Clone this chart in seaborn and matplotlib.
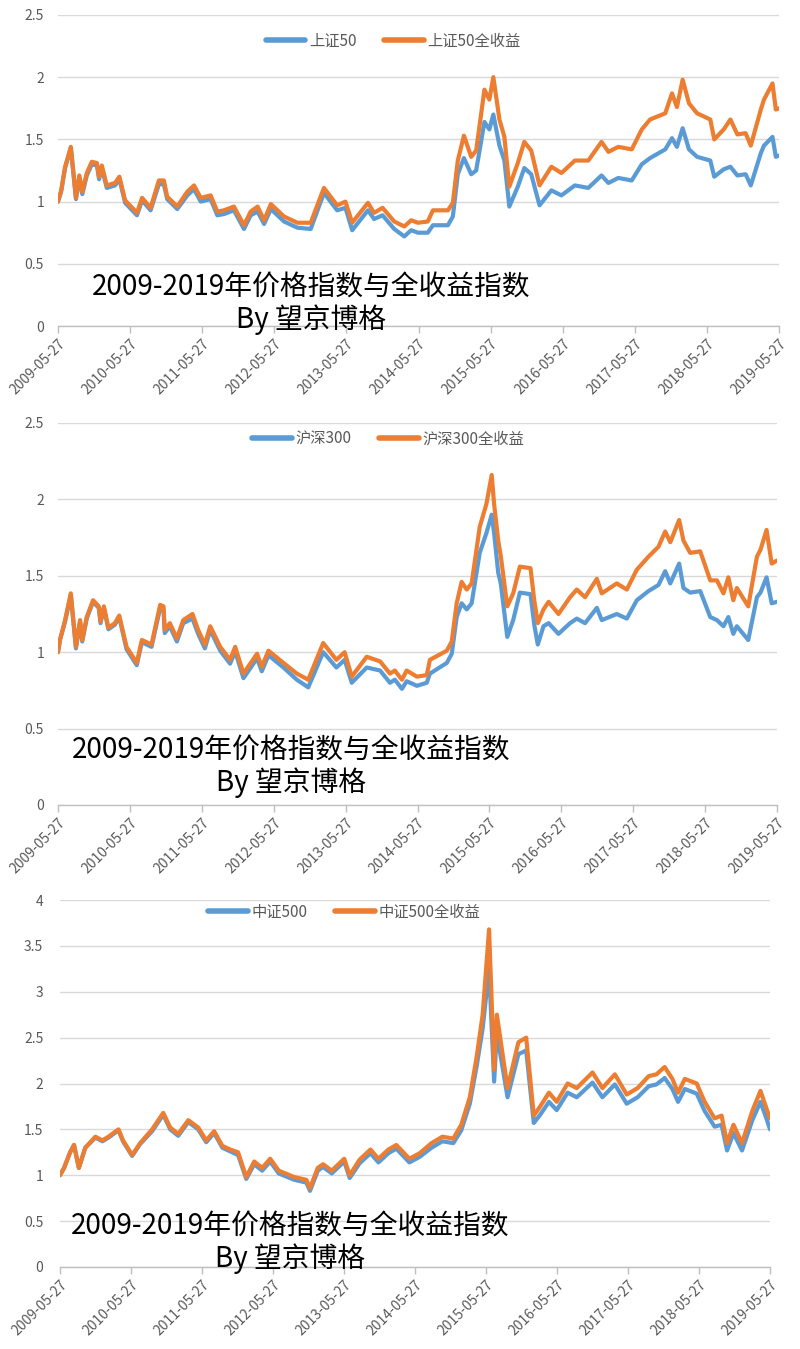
import pandas as pd
import matplotlib.pyplot as plt
import seaborn as sns

# ── colours (Excel default palette) ───────────────────────────────────────────
BLUE = "#5B9BD5"
ORANGE = "#ED7D31"

# ── data: normalised index values (start = 1) ────────────────────────────────
year_ticks = ["2009-05-27", "2010-05-27", "2011-05-27", "2012-05-27", "2013-05-27",
              "2014-05-27", "2015-05-27", "2016-05-27", "2017-05-27", "2018-05-27",
              "2019-05-27"]

sz50_names = ["上证50", "上证50全收益"]
sz50_dates = [
    "2009-05-27", "2009-06-12", "2009-07-02", "2009-07-31", "2009-08-26", "2009-09-12", "2009-09-27", "2009-10-20", "2009-11-14", "2009-12-10",
    "2009-12-21", "2010-01-04", "2010-01-29", "2010-03-12", "2010-04-03", "2010-05-02", "2010-07-01", "2010-07-27", "2010-09-08", "2010-10-20",
    "2010-11-14", "2010-12-01", "2011-01-21", "2011-03-13", "2011-04-16", "2011-05-20", "2011-07-09", "2011-08-12", "2011-09-15", "2011-11-04",
    "2011-12-25", "2012-01-28", "2012-03-03", "2012-04-05", "2012-05-09", "2012-07-15", "2012-09-21", "2012-11-27", "2013-02-02", "2013-04-10",
    "2013-05-22", "2013-06-25", "2013-09-13", "2013-10-14", "2013-11-26", "2014-01-24", "2014-03-16", "2014-04-20", "2014-05-24", "2014-07-13",
    "2014-08-08", "2014-10-23", "2014-11-17", "2014-12-12", "2015-01-12", "2015-02-18", "2015-03-15", "2015-04-26", "2015-05-21", "2015-06-10",
    "2015-07-11", "2015-08-05", "2015-08-30", "2015-10-12", "2015-11-14", "2015-12-19", "2016-01-30", "2016-03-30", "2016-05-20", "2016-07-27",
    "2016-10-03", "2016-12-09", "2017-01-13", "2017-03-04", "2017-05-11", "2017-07-01", "2017-08-12", "2017-10-28", "2017-12-01", "2017-12-26",
    "2018-01-24", "2018-02-25", "2018-04-07", "2018-06-13", "2018-07-03", "2018-08-20", "2018-09-23", "2018-10-28", "2018-12-09", "2019-01-04",
    "2019-02-24", "2019-03-12", "2019-04-24", "2019-05-11", "2019-05-27"]
sz50_price = [
    1.00, 1.08, 1.27, 1.43, 1.02, 1.19, 1.06, 1.21, 1.30, 1.29,
    1.18, 1.27, 1.11, 1.13, 1.18, 0.99, 0.89, 1.01, 0.93, 1.14,
    1.14, 1.02, 0.94, 1.05, 1.10, 1.00, 1.02, 0.89, 0.90, 0.93,
    0.78, 0.89, 0.92, 0.82, 0.94, 0.84, 0.79, 0.78, 1.07, 0.93,
    0.95, 0.77, 0.93, 0.86, 0.89, 0.78, 0.72, 0.77, 0.75, 0.75,
    0.81, 0.81, 0.88, 1.22, 1.35, 1.22, 1.25, 1.64, 1.58, 1.70,
    1.45, 1.33, 0.96, 1.12, 1.27, 1.22, 0.97, 1.09, 1.05, 1.13,
    1.11, 1.21, 1.15, 1.19, 1.17, 1.30, 1.35, 1.42, 1.51, 1.44,
    1.59, 1.42, 1.36, 1.33, 1.20, 1.26, 1.28, 1.21, 1.22, 1.13,
    1.39, 1.45, 1.52, 1.36, 1.37]
sz50_total = [
    1.00, 1.09, 1.28, 1.44, 1.03, 1.21, 1.08, 1.23, 1.32, 1.31,
    1.20, 1.29, 1.13, 1.15, 1.20, 1.01, 0.91, 1.03, 0.95, 1.17,
    1.17, 1.04, 0.96, 1.08, 1.13, 1.03, 1.05, 0.92, 0.93, 0.96,
    0.81, 0.92, 0.96, 0.85, 0.98, 0.88, 0.83, 0.83, 1.11, 0.97,
    1.00, 0.83, 0.99, 0.91, 0.95, 0.84, 0.80, 0.85, 0.83, 0.84,
    0.93, 0.93, 0.99, 1.33, 1.53, 1.36, 1.41, 1.90, 1.82, 2.00,
    1.66, 1.52, 1.12, 1.31, 1.48, 1.41, 1.13, 1.28, 1.23, 1.33,
    1.33, 1.48, 1.40, 1.44, 1.42, 1.58, 1.66, 1.71, 1.87, 1.76,
    1.98, 1.79, 1.71, 1.66, 1.50, 1.58, 1.66, 1.54, 1.55, 1.45,
    1.74, 1.82, 1.95, 1.74, 1.75]

hs300_names = ["沪深300", "沪深300全收益"]
hs300_dates = [
    "2009-05-27", "2009-06-06", "2009-07-02", "2009-07-31", "2009-08-26", "2009-09-16", "2009-09-27", "2009-10-20", "2009-11-21", "2009-12-20",
    "2009-12-29", "2010-01-15", "2010-02-07", "2010-03-12", "2010-04-03", "2010-05-10", "2010-07-01", "2010-07-27", "2010-09-14", "2010-10-28",
    "2010-11-14", "2010-11-20", "2010-12-16", "2011-01-21", "2011-02-22", "2011-04-10", "2011-05-09", "2011-06-12", "2011-07-09", "2011-08-29",
    "2011-10-18", "2011-11-13", "2011-12-25", "2012-03-03", "2012-03-27", "2012-04-30", "2012-07-15", "2012-09-21", "2012-11-18", "2013-02-02",
    "2013-04-10", "2013-05-22", "2013-06-27", "2013-09-11", "2013-11-18", "2014-01-07", "2014-02-01", "2014-03-09", "2014-04-02", "2014-05-24",
    "2014-07-13", "2014-07-29", "2014-10-23", "2014-11-17", "2014-12-12", "2015-01-06", "2015-02-01", "2015-02-26", "2015-04-08", "2015-05-12",
    "2015-06-08", "2015-06-20", "2015-07-11", "2015-07-24", "2015-08-26", "2015-09-25", "2015-10-29", "2015-12-22", "2016-01-10", "2016-01-28",
    "2016-02-26", "2016-03-23", "2016-05-12", "2016-07-10", "2016-08-13", "2016-09-24", "2016-11-23", "2016-12-18", "2017-03-04", "2017-04-24",
    "2017-06-14", "2017-08-12", "2017-10-02", "2017-11-05", "2017-12-01", "2018-01-15", "2018-02-06", "2018-03-12", "2018-05-02", "2018-06-22",
    "2018-07-26", "2018-08-28", "2018-09-22", "2018-10-17", "2018-11-04", "2019-01-01", "2019-02-14", "2019-03-04", "2019-04-04", "2019-04-30",
    "2019-05-27"]
hs300_price = [
    1.00, 1.08, 1.20, 1.375, 1.025, 1.20, 1.07, 1.22, 1.33, 1.29,
    1.19, 1.29, 1.15, 1.18, 1.23, 1.02, 0.915, 1.065, 1.035, 1.29,
    1.28, 1.125, 1.17, 1.07, 1.19, 1.22, 1.12, 1.025, 1.145, 1.01,
    0.925, 1.005, 0.83, 0.96, 0.875, 0.98, 0.90, 0.82, 0.77, 1.00,
    0.90, 0.95, 0.80, 0.90, 0.88, 0.80, 0.82, 0.76, 0.81, 0.78,
    0.80, 0.86, 0.93, 0.99, 1.23, 1.32, 1.28, 1.32, 1.65, 1.78,
    1.90, 1.78, 1.52, 1.45, 1.10, 1.21, 1.39, 1.38, 1.18, 1.05,
    1.17, 1.19, 1.12, 1.19, 1.22, 1.19, 1.29, 1.21, 1.25, 1.22,
    1.34, 1.40, 1.44, 1.53, 1.45, 1.58, 1.42, 1.39, 1.40, 1.23,
    1.21, 1.17, 1.23, 1.12, 1.17, 1.08, 1.36, 1.39, 1.49, 1.32,
    1.33]
hs300_total = [
    1.00, 1.08, 1.21, 1.385, 1.035, 1.21, 1.08, 1.23, 1.34, 1.30,
    1.20, 1.30, 1.16, 1.19, 1.24, 1.035, 0.93, 1.08, 1.05, 1.31,
    1.30, 1.145, 1.19, 1.09, 1.21, 1.25, 1.145, 1.05, 1.17, 1.035,
    0.95, 1.035, 0.86, 0.99, 0.905, 1.01, 0.93, 0.86, 0.82, 1.06,
    0.95, 1.00, 0.84, 0.97, 0.94, 0.86, 0.88, 0.82, 0.88, 0.84,
    0.85, 0.95, 1.01, 1.07, 1.32, 1.46, 1.41, 1.45, 1.82, 1.97,
    2.16, 1.97, 1.73, 1.63, 1.30, 1.385, 1.56, 1.55, 1.34, 1.19,
    1.28, 1.33, 1.25, 1.36, 1.41, 1.36, 1.48, 1.385, 1.45, 1.41,
    1.54, 1.625, 1.69, 1.79, 1.72, 1.865, 1.73, 1.65, 1.66, 1.47,
    1.47, 1.385, 1.49, 1.34, 1.42, 1.30, 1.625, 1.67, 1.80, 1.58,
    1.60]

zz500_names = ["中证500", "中证500全收益"]
zz500_dates = [
    "2009-05-27", "2009-06-17", "2009-07-18", "2009-08-07", "2009-09-01", "2009-10-04", "2009-11-25", "2009-12-31", "2010-01-31", "2010-03-24",
    "2010-04-16", "2010-06-02", "2010-07-13", "2010-09-13", "2010-11-09", "2010-12-15", "2011-01-25", "2011-03-18", "2011-05-08", "2011-06-18",
    "2011-07-29", "2011-09-09", "2011-10-20", "2011-11-29", "2012-01-10", "2012-02-20", "2012-04-01", "2012-05-12", "2012-06-25", "2012-09-13",
    "2012-11-14", "2012-12-03", "2013-01-12", "2013-02-08", "2013-03-25", "2013-05-28", "2013-06-25", "2013-08-15", "2013-10-10", "2013-11-20",
    "2014-01-10", "2014-02-20", "2014-04-28", "2014-06-20", "2014-08-20", "2014-10-15", "2014-12-10", "2015-01-20", "2015-03-05", "2015-04-10",
    "2015-05-10", "2015-06-12", "2015-07-08", "2015-07-22", "2015-09-15", "2015-11-10", "2015-12-20", "2016-01-28", "2016-03-01", "2016-04-15",
    "2016-05-25", "2016-07-20", "2016-09-05", "2016-11-25", "2017-01-15", "2017-03-20", "2017-05-20", "2017-07-15", "2017-09-10", "2017-10-20",
    "2017-12-01", "2018-01-10", "2018-02-08", "2018-03-15", "2018-05-15", "2018-06-25", "2018-08-15", "2018-09-20", "2018-10-18", "2018-11-20",
    "2019-01-03", "2019-02-25", "2019-04-08", "2019-05-10", "2019-05-27"]
zz500_price = [
    1.00, 1.08, 1.25, 1.33, 1.08, 1.30, 1.41, 1.37, 1.41, 1.49,
    1.37, 1.21, 1.34, 1.48, 1.66, 1.50, 1.43, 1.58, 1.50, 1.36,
    1.46, 1.30, 1.26, 1.22, 0.96, 1.12, 1.05, 1.15, 1.02, 0.95,
    0.92, 0.83, 1.05, 1.09, 1.02, 1.15, 0.97, 1.13, 1.24, 1.14,
    1.24, 1.29, 1.14, 1.20, 1.30, 1.37, 1.35, 1.49, 1.78, 2.20,
    2.60, 3.25, 2.02, 2.55, 1.85, 2.32, 2.36, 1.57, 1.66, 1.80,
    1.71, 1.90, 1.85, 2.01, 1.85, 1.99, 1.78, 1.85, 1.97, 1.99,
    2.06, 1.94, 1.80, 1.94, 1.89, 1.70, 1.53, 1.55, 1.27, 1.46,
    1.27, 1.60, 1.80, 1.61, 1.50]
zz500_total = [
    1.00, 1.08, 1.25, 1.33, 1.08, 1.30, 1.42, 1.38, 1.42, 1.50,
    1.38, 1.22, 1.35, 1.50, 1.68, 1.52, 1.45, 1.60, 1.52, 1.38,
    1.48, 1.32, 1.28, 1.25, 0.98, 1.15, 1.08, 1.18, 1.05, 0.98,
    0.95, 0.86, 1.08, 1.12, 1.05, 1.18, 1.00, 1.17, 1.28, 1.18,
    1.28, 1.33, 1.18, 1.24, 1.35, 1.42, 1.40, 1.55, 1.85, 2.30,
    2.75, 3.68, 2.15, 2.75, 1.95, 2.45, 2.50, 1.65, 1.75, 1.90,
    1.80, 2.00, 1.95, 2.12, 1.95, 2.10, 1.88, 1.95, 2.08, 2.10,
    2.18, 2.05, 1.90, 2.05, 2.00, 1.80, 1.62, 1.65, 1.35, 1.55,
    1.35, 1.70, 1.92, 1.72, 1.62]

note_text = "2009-2019年价格指数与全收益指数\nBy 望京博格"

# ── styling ───────────────────────────────────────────────────────────────────
sns.set_theme(style="white")
plt.rcParams["font.family"] = ["Noto Sans CJK SC", "DejaVu Sans"]

W, H = 800, 1349
fig = plt.figure(figsize=(W / 100, H / 100), dpi=100)


def px_rect(left, top, right, bottom):
    return [left / W, 1 - bottom / H, (right - left) / W, (bottom - top) / H]


def draw_panel(rect, dates, price, total, names, ymax, legend_anchor, note_xy, ypad):
    ax = fig.add_axes(rect)
    df = pd.DataFrame({"date": pd.to_datetime(dates), names[0]: price, names[1]: total})
    long_df = df.melt(id_vars="date", var_name="series", value_name="value")
    sns.lineplot(data=long_df, x="date", y="value", hue="series",
                 palette=[BLUE, ORANGE], linewidth=3.0, ax=ax)

    # y axis
    yticks = [i * 0.5 for i in range(int(ymax / 0.5) + 1)]
    ax.set_ylim(0, ymax)
    ax.set_yticks(yticks)
    ax.set_yticklabels([f"{v:g}" for v in yticks])
    ax.tick_params(axis="y", length=0, pad=ypad, labelsize=10, labelcolor="#595959")
    ax.grid(axis="y", color="#d9d9d9", linewidth=1)
    ax.grid(axis="x", visible=False)
    ax.set_axisbelow(True)

    # x axis (date axis, one tick per year)
    tick_dates = pd.to_datetime(year_ticks)
    ax.set_xlim(tick_dates[0], tick_dates[-1])
    ax.set_xticks(tick_dates)
    ax.set_xticklabels(year_ticks, rotation=45, ha="right", rotation_mode="anchor")
    ax.tick_params(axis="x", length=5, width=1, color="#bfbfbf", pad=3,
                   labelsize=10, labelcolor="#595959", bottom=True)
    ax.set_xlabel("")
    ax.set_ylabel("")

    for side in ["top", "left", "right"]:
        ax.spines[side].set_visible(False)
    ax.spines["bottom"].set_color("#bfbfbf")
    ax.spines["bottom"].set_linewidth(1)

    handles, labels = ax.get_legend_handles_labels()
    leg = ax.legend(handles, labels, loc="center", bbox_to_anchor=legend_anchor,
                    ncol=2, frameon=False, fontsize=11, handlelength=2.6,
                    handletextpad=0.25, columnspacing=1.8, labelcolor="#595959")
    for line in leg.get_lines():
        line.set_linewidth(4)
        line.set_solid_capstyle("round")

    fig.text(note_xy[0] / W, 1 - note_xy[1] / H, note_text, ha="center", va="center",
             multialignment="center", fontsize=20, linespacing=1.12,
             color="black", fontweight="light")
    return ax


draw_panel(px_rect(58, 15, 779, 326), sz50_dates, sz50_price, sz50_total, sz50_names,
           2.5, (0.465, 0.916), (311, 303), 10)
draw_panel(px_rect(58, 423, 777, 805), hs300_dates, hs300_price, hs300_total, hs300_names,
           2.5, (0.459, 0.958), (291, 766), 10)
draw_panel(px_rect(60, 900, 770, 1267), zz500_dates, zz500_price, zz500_total, zz500_names,
           4.0, (0.40, 0.967), (290, 1242), 12)

fig.savefig("out.png", dpi=100, facecolor="white")
